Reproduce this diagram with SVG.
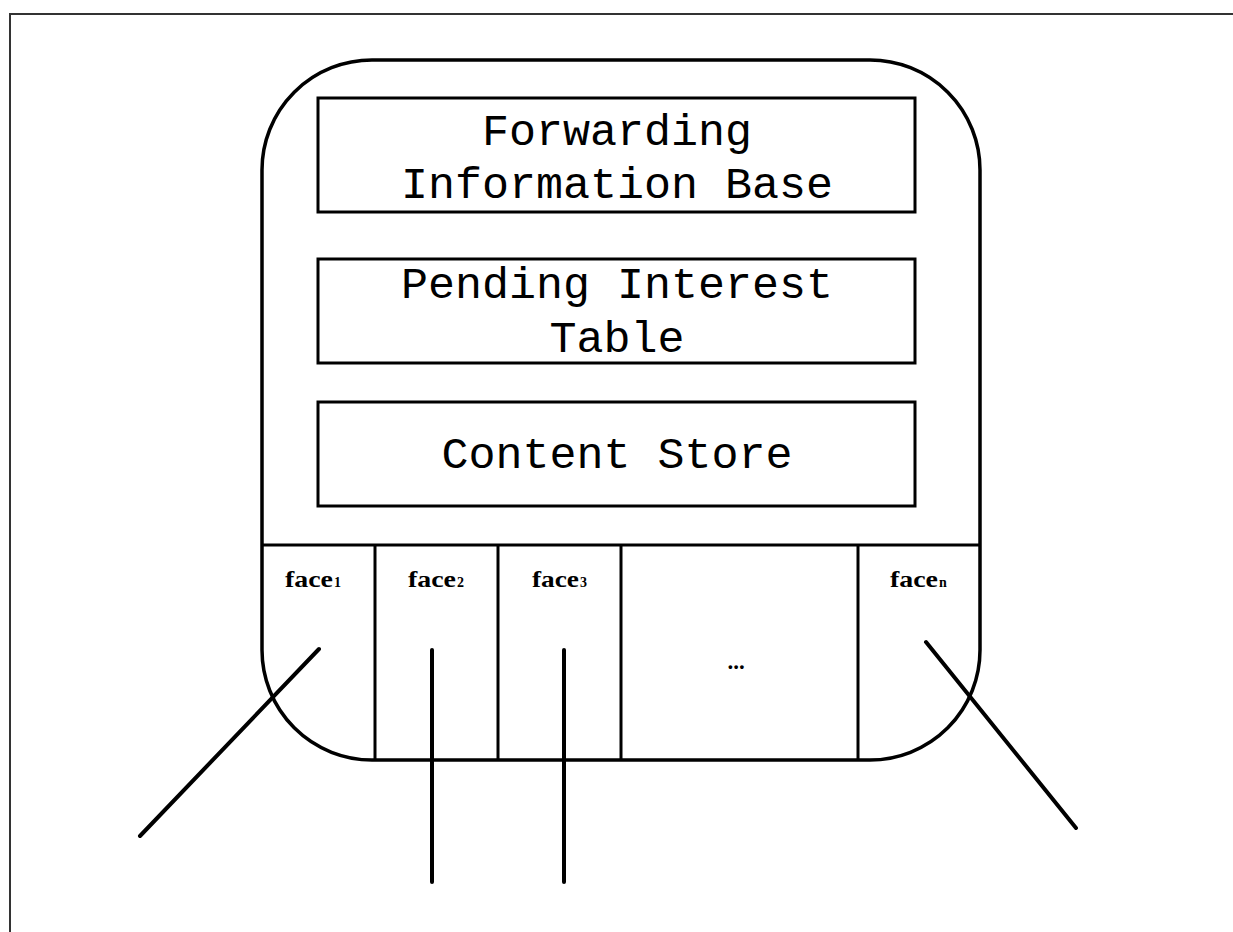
<svg xmlns="http://www.w3.org/2000/svg" width="1233" height="932" viewBox="0 0 1233 932">
  <style>
    .frame { fill: none; stroke: #333; stroke-width: 2; }
    .ln { fill: none; stroke: #000; stroke-width: 4; stroke-linecap: round; }
    .box { fill: #fff; stroke: #000; stroke-width: 3; }
    .mono { font-family: "Liberation Mono", "Courier New", monospace; font-size: 45px; fill: #000; text-anchor: middle; }
    .face { font-family: "Liberation Serif", "Times New Roman", serif; font-weight: bold; font-size: 23px; fill: #000; }
    .sub { font-family: "Liberation Serif", "Times New Roman", serif; font-weight: bold; font-size: 14px; fill: #000; }
  </style>
  <rect width="1233" height="932" fill="#fff"/>
  <!-- page frame -->
  <path class="frame" d="M10,932 V14 H1233"/>

  <!-- router body -->
  <g id="router">
    <rect x="262" y="60" width="718" height="700" rx="110" ry="110" fill="#fff" stroke="#000" stroke-width="3.5"/>
    <line x1="262" y1="545" x2="980" y2="545" stroke="#000" stroke-width="3"/>
  </g>

  <g id="fib">
    <rect class="box" x="318" y="98" width="597" height="114"/>
    <text class="mono" x="617" y="145">Forwarding</text>
    <text class="mono" x="617" y="198">Information Base</text>
  </g>
  <g id="pit">
    <rect class="box" x="318" y="259" width="597" height="104"/>
    <text class="mono" x="617" y="298">Pending Interest</text>
    <text class="mono" x="617" y="352">Table</text>
  </g>
  <g id="cs">
    <rect class="box" x="318" y="402" width="597" height="104"/>
    <text class="mono" x="617" y="468">Content Store</text>
  </g>

  <!-- face cells -->
  <g id="face-dividers" stroke="#000" stroke-width="3">
    <line x1="375" y1="545" x2="375" y2="760"/>
    <line x1="498" y1="545" x2="498" y2="760"/>
    <line x1="621" y1="545" x2="621" y2="760"/>
    <line x1="858" y1="545" x2="858" y2="760"/>
  </g>
  <g id="face1">
    <text class="face" x="285" y="587" textLength="48" lengthAdjust="spacingAndGlyphs">face</text>
    <text class="sub" x="334" y="587">1</text>
  </g>
  <g id="face2">
    <text class="face" x="408" y="587" textLength="48" lengthAdjust="spacingAndGlyphs">face</text>
    <text class="sub" x="457" y="587">2</text>
  </g>
  <g id="face3">
    <text class="face" x="532" y="587" textLength="47" lengthAdjust="spacingAndGlyphs">face</text>
    <text class="sub" x="580" y="587">3</text>
  </g>
  <g id="face-more"><text class="face" x="736" y="669" text-anchor="middle" font-size="26">...</text></g>
  <g id="facen">
    <text class="face" x="890" y="587" textLength="48" lengthAdjust="spacingAndGlyphs">face</text>
    <text class="sub" x="939" y="587">n</text>
  </g>

  <!-- links out of the faces -->
  <g id="connectors">
    <line class="ln" x1="319" y1="649" x2="140" y2="836"/>
    <line class="ln" x1="432" y1="650" x2="432" y2="882"/>
    <line class="ln" x1="564" y1="650" x2="564" y2="882"/>
    <line class="ln" x1="926" y1="642" x2="1076" y2="828"/>
  </g>
</svg>
